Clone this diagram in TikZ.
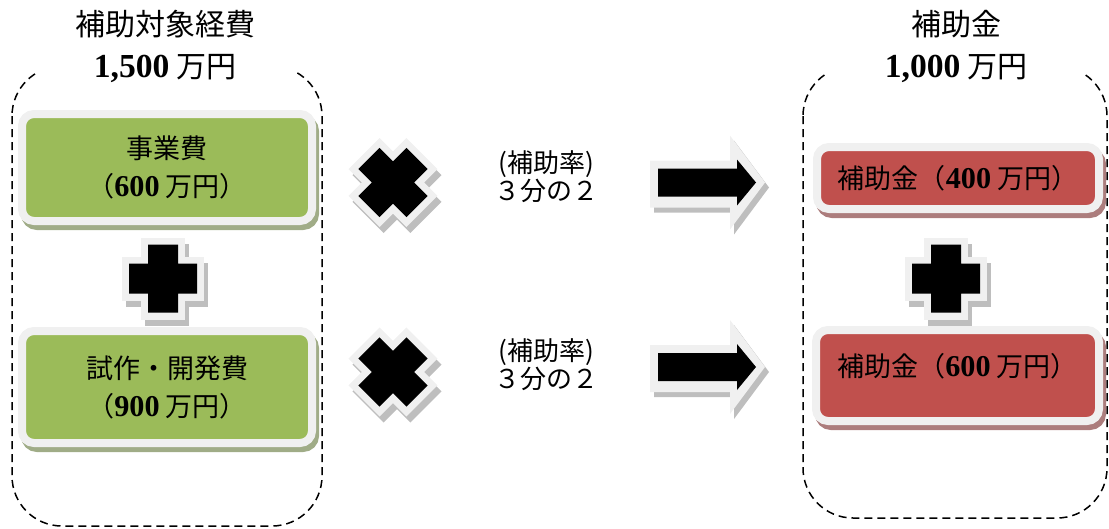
\documentclass[tikz,border=0pt]{standalone}
\usepackage{fontspec}
\setmainfont{Liberation Serif}
\newfontfamily\jp{Noto Sans CJK JP}
\newfontfamily\numf[Scale=1.12]{Liberation Serif}
\usetikzlibrary{shadows,calc}
\definecolor{boxgreen}{HTML}{9BBB59}
\definecolor{boxred}{HTML}{C0504D}
\definecolor{glowc}{HTML}{F0F0F0}
\definecolor{gshad}{RGB}{160,172,135}
\definecolor{rshad}{RGB}{172,125,125}
\definecolor{kshad}{RGB}{190,190,190}
\newcommand{\numtxt}[1]{{\numf\bfseries #1}}
\tikzset{
  cont/.style={draw=black, line width=1.5pt, dash pattern=on 8pt off 5pt, rounded corners=50pt},
  titletext/.style={align=center, inner sep=0pt, font=\jp\fontsize{30}{42}\selectfont},
  midtext/.style={align=center, inner sep=0pt, font=\jp\fontsize{26}{28}\selectfont},
  plaintext/.style={align=center, inner sep=0pt, font=\jp\fontsize{27}{38}\selectfont},
  glowbox/.style={rectangle, rounded corners=12pt, draw=glowc, line width=8pt, inner sep=0pt,
    align=center, font=\jp\fontsize{27}{38}\selectfont},
  greenbox/.style={glowbox, fill=boxgreen,
    drop shadow={shadow xshift=3pt, shadow yshift=-5pt, fill=gshad, draw=gshad, line width=8pt, opacity=1}},
  redbox/.style={glowbox, fill=boxred,
    drop shadow={shadow xshift=3pt, shadow yshift=-5pt, fill=rshad, draw=rshad, line width=8pt, opacity=1}},
  plusoutline/.style={insert path={(-15,-34) -- (15,-34) -- (15,-15) -- (34,-15) -- (34,15) -- (15,15)
    -- (15,34) -- (-15,34) -- (-15,15) -- (-34,15) -- (-34,-15) -- (-15,-15) -- cycle}},
  arrowglow/.style={insert path={(-57,-22) -- (23,-22) -- (23,-47) -- (58,0) -- (23,47) -- (23,25)
    -- (-57,25) -- cycle}},
  arrowcore/.style={insert path={(-49,-14) -- (30,-14) -- (30,-23) -- (49,0) -- (30,23) -- (30,14)
    -- (-49,14) -- cycle}},
  pics/plussign/.style={code={
    \path[fill=kshad, draw=kshad, line width=14pt, shift={(4,6)}, rotate=#1, plusoutline];
    \path[fill=glowc, draw=glowc, line width=14pt, rotate=#1, plusoutline];
    \path[fill=black, rotate=#1, plusoutline];
  }},
  pics/plussign/.default=0,
  pics/fatarrow/.style={code={
    \path[fill=kshad, shift={(4,5)}, arrowglow];
    \path[fill=glowc, arrowglow];
    \path[fill=black, arrowcore];
  }},
}
\begin{document}
\begin{tikzpicture}[x=1pt,y=-1pt]
\useasboundingbox (0,0) rectangle (1109,528);
% dashed containers
\draw[cont] (12,66) rectangle (322,526);
\draw[cont] (803,66) rectangle (1107,518);
\fill[white] (38,0) rectangle (297,75);
\fill[white] (828,0) rectangle (1082,75);
\node[titletext] (t1) at (165,46) {補助対象経費\\\numtxt{1,500} 万円};
\node[titletext] (t2) at (956,46) {補助金\\\numtxt{1,000} 万円};
% green boxes
\node[greenbox, minimum width=290pt, minimum height=107pt] (g1) at (167,167.5) {事業費\\（\numtxt{600} 万円）};
\node[greenbox, minimum width=290pt, minimum height=112pt] (g2) at (167,387) {試作・開発費\\（\numtxt{900} 万円）};
% red boxes
\node[redbox, minimum width=282pt, minimum height=62pt] (r1) at (958,178) {補助金（\numtxt{400} 万円）};
\node[redbox, minimum width=283pt, minimum height=91pt] (r2) at (957.5,375.5) {};
\node[plaintext] (r2t) at (957.5,366) {補助金（\numtxt{600} 万円）};
% middle texts
\node[midtext] (m1) at (546,177) {(補助率)\\３分の２};
\node[midtext] (m2) at (546,365) {(補助率)\\３分の２};
% symbols
\pic at (393,182.5) {plussign=45};
\pic at (393,372) {plussign=45};
\pic at (163,278.5) {plussign};
\pic at (946,278.5) {plussign};
\pic at (707,182.5) {fatarrow};
\pic at (707,367) {fatarrow};
\end{tikzpicture}
\end{document}
